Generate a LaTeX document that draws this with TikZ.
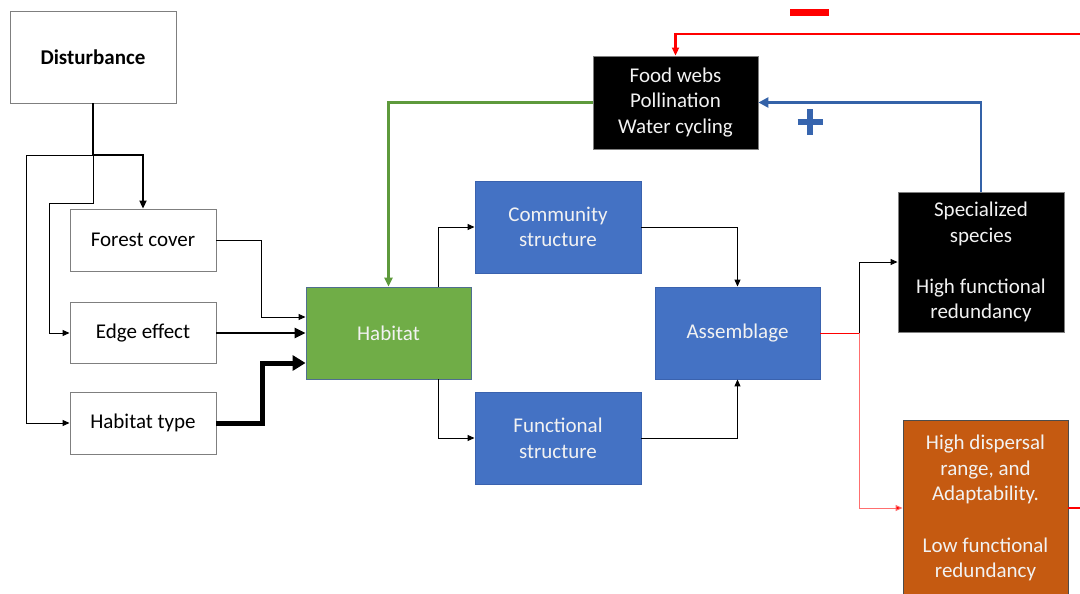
\documentclass[tikz,border=0pt]{standalone}
\usepackage{fontspec}
\setmainfont{Carlito}
\usetikzlibrary{arrows.meta,calc}
\definecolor{boxgray}{HTML}{7F7F7F}
\definecolor{bxblue}{HTML}{4472C4}
\definecolor{bxblueedge}{HTML}{3A62AE}
\definecolor{bxgreen}{HTML}{70AD47}
\definecolor{bxgreenedge}{HTML}{4F6E8F}
\definecolor{bxorange}{HTML}{C55A11}
\definecolor{lnblue}{HTML}{3462A8}
\definecolor{lngreen}{HTML}{5E9A3C}
\definecolor{lnpink}{HTML}{FF6F6F}
\definecolor{txtwhite}{HTML}{F2F2F2}
\begin{document}
\begin{tikzpicture}[x=1pt,y=-1pt,
  box/.style={draw=boxgray, line width=0.9pt, inner sep=0pt, align=center,
    font=\fontsize{21}{25.6}\selectfont},
  wbox/.style={box, fill=white, text=black},
  bluebox/.style={box, fill=bxblue, draw=bxblueedge, text=txtwhite},
  blackbox/.style={box, fill=black, draw=boxgray, text=txtwhite},
  thinarr/.style={line width=1pt, -{Triangle[length=7pt,width=6pt]}},
  thinline/.style={line width=1pt},
  medarr/.style={line width=2.6pt, -{Triangle[length=11pt,width=10pt]}},
  fatarr/.style={line width=5pt, -{Triangle[length=13pt,width=15pt]}},
  fatline/.style={line width=2.4pt}]
\useasboundingbox (0,0) rectangle (1080,594);
\clip (0,0) rectangle (1080,594);
\fill[white] (0,0) rectangle (1080,594);

% nodes
\node[wbox, minimum width=166pt, minimum height=92pt, font=\fontsize{21}{25.6}\selectfont\bfseries] (dist) at (93,57) {Disturbance};
\node[wbox, minimum width=146pt, minimum height=62pt] (forest) at (143,240) {Forest cover};
\node[wbox, minimum width=146pt, minimum height=61pt] (edge) at (143,333) {Edge effect};
\node[wbox, minimum width=146pt, minimum height=62pt] (htype) at (143,423) {Habitat type};
\node[box, fill=bxgreen, draw=bxgreenedge, text=txtwhite, minimum width=165pt, minimum height=92pt] (hab) at (388.5,333) {Habitat};
\node[bluebox, minimum width=166pt, minimum height=92pt] (comm) at (558,227) {Community\\structure};
\node[bluebox, minimum width=166pt, minimum height=92pt] (func) at (558,438) {Functional\\structure};
\node[bluebox, minimum width=165pt, minimum height=92pt] (assem) at (737.5,333) {Assemblage};
\node[blackbox, minimum width=165pt, minimum height=93pt] (food) at (675.5,102.5) {Food webs\\Pollination\\Water cycling};
\node[blackbox, minimum width=166pt, minimum height=140pt] (spec) at (981,262) {Specialized\\species\\[25.6pt]High functional\\redundancy};
\node[box, fill=bxorange, draw=boxgray!60!black, text=txtwhite, minimum width=165pt, minimum height=176pt] (orange) at (985.5,508) {High dispersal\\range, and\\Adaptability.\\[25.6pt]Low functional\\redundancy};

% junction coordinates
\coordinate (j1) at (93,155);
\coordinate (jl) at (26,155);
\coordinate (j2) at (93,203);
\coordinate (j3) at (49,203);
\coordinate (f1) at (261,240);
\coordinate (h1) at (262,423);
\coordinate (habtop) at (438,287);
\coordinate (habbot) at (438,379);
\coordinate (sp) at (859,333);
\coordinate (rr) at (1090,508);
\coordinate (rt) at (1090,34);

% disturbance connectors
\draw[fatline] (dist.south) -- (j1);
\draw[line width=2.4pt, -{Triangle[length=8pt,width=7pt]}] (j1) -| (forest.north);
\draw[thinline] (j1) -- (jl);
\draw[thinarr] (jl) |- (htype.west);
\draw[thinline] (j1) -- (j2) -- (j3);
\draw[thinarr] (j3) |- (edge.west);

% into habitat
\draw[thinarr] (forest.east) -- (f1) |- ($(hab.west)+(0,-16)$);
\draw[medarr] (edge.east) -- (hab.west);
\draw[fatarr] (htype.east) -- (h1) |- ($(hab.west)+(0,30)$);

% habitat out
\draw[thinarr] (habtop) |- (comm.west);
\draw[thinarr] (habbot) |- (func.west);
\draw[thinarr] (comm.east) -| (assem.north);
\draw[thinarr] (func.east) -| (assem.south);

% assemblage out
\draw[thinline, red] (assem.east) -- (sp);
\draw[thinarr] (sp) |- (spec.west);
\draw[line width=1pt, lnpink, -{Triangle[length=7pt,width=6pt, fill=red]}] (sp) |- (orange.west);

% feedbacks
\draw[line width=2.2pt, red] (orange.east) -- (rr) -- (rt);
\draw[line width=2.2pt, red, -{Triangle[length=8pt,width=7pt]}] (rt) -| (food.north);
\draw[line width=2.6pt, lnblue, -{Triangle[length=10pt,width=10pt]}] (spec.north) |- (food.east);
\draw[line width=2.2pt, lngreen, -{Triangle[length=9pt,width=8pt]}] (food.west) -| (hab.north);

% signs
\fill[red] (790,9) rectangle (829,16);
\draw[lnblue!80!bxblue, line width=5.5pt] (797.5,122) -- (822.5,122) (810,109.5) -- (810,134.5);
\end{tikzpicture}
\end{document}
